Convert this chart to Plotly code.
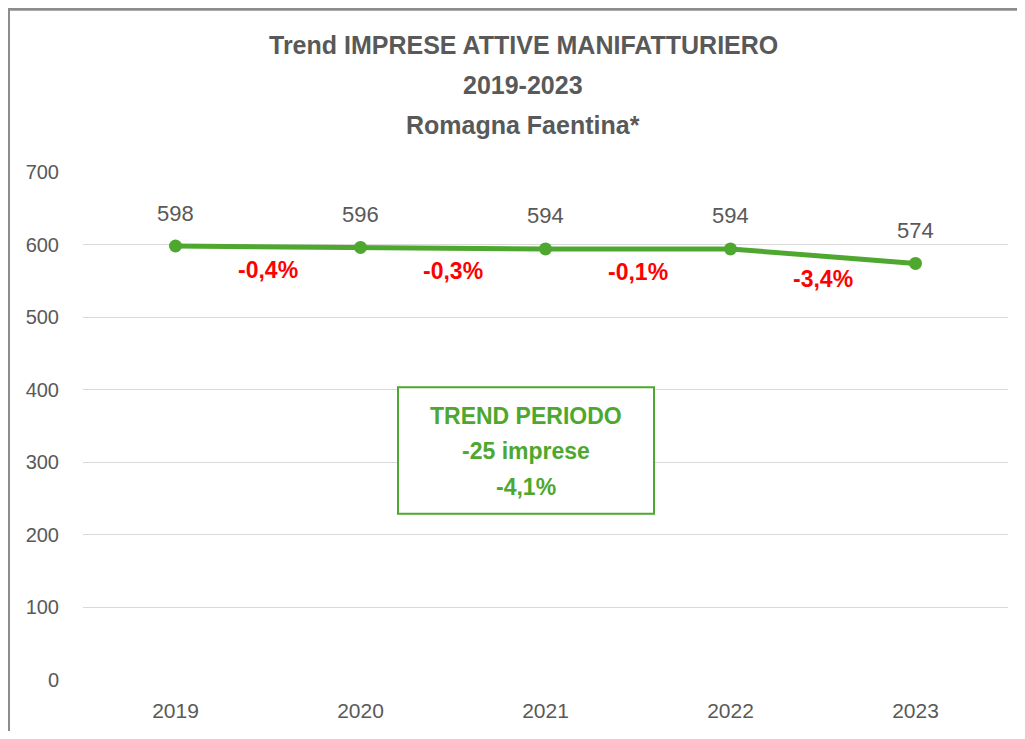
import plotly.graph_objects as go

years = ["2019", "2020", "2021", "2022", "2023"]
imprese = [598, 596, 594, 594, 574]
var_labels = ["-0,4%", "-0,3%", "-0,1%", "-3,4%"]
title_lines = ["Trend IMPRESE ATTIVE MANIFATTURIERO", "2019-2023", "Romagna Faentina*"]
box_lines = ["TREND PERIODO", "-25 imprese", "-4,1%"]
y_ticks = [0, 100, 200, 300, 400, 500, 600, 700]

GREEN = "#4EA72E"
GREY_TXT = "#595959"
FONT = "Liberation Sans, Arial, sans-serif"

# page offset (browser body margin)
OFF = 8
W, H = 1025 - 2 * OFF, 739 - 2 * OFF
# plot area in page pixels: x 83..1008, y 172..682
PL, PR, PT, PB = 83, 1008, 172, 682
L, T = PL - OFF, PT - OFF
PW, PH = PR - PL, PB - PT
R, B = W - L - PW, H - T - PH


def px(xp):
    return (xp - PL) / PW


def py(yp):
    return (PB - yp) / PH


fig = go.Figure()
fig.add_trace(go.Scatter(
    x=years, y=imprese, mode="lines+markers",
    line=dict(color=GREEN, width=5),
    marker=dict(color=GREEN, size=13),
    hoverinfo="skip", showlegend=False,
))

annotations = []
for i, v in enumerate(imprese):
    annotations.append(dict(x=i, y=v, xref="x", yref="y", text=str(v), showarrow=False,
                            yshift=33, font=dict(family=FONT, size=22, color=GREY_TXT)))
for i, lab in enumerate(var_labels):
    mid = (imprese[i] + imprese[i + 1]) / 2
    annotations.append(dict(x=i + 0.5, y=mid, xref="x", yref="y", text=lab, showarrow=False,
                            yshift=-23, font=dict(family=FONT, size=23, color="#FF0000", weight="bold")))
for yp, t in zip([45, 85, 125], title_lines):
    annotations.append(dict(x=px(523), y=py(yp), xref="paper", yref="paper", text=t, showarrow=False,
                            xanchor="center", yanchor="middle",
                            font=dict(family=FONT, size=25, color=GREY_TXT, weight="bold")))
for yp, t in zip([417, 452, 488], box_lines):
    annotations.append(dict(x=px(526), y=py(yp), xref="paper", yref="paper", text=t, showarrow=False,
                            xanchor="center", yanchor="middle",
                            font=dict(family=FONT, size=23, color=GREEN, weight="bold")))

shapes = [
    dict(type="rect", xref="paper", yref="paper", x0=px(398), x1=px(654), y0=py(515), y1=py(388),
         line=dict(color=GREEN, width=2), fillcolor="white", layer="above"),
    dict(type="line", xref="paper", yref="paper", x0=px(OFF), x1=px(1030), y0=py(OFF + 0.5), y1=py(OFF + 0.5),
         line=dict(color="#8C8C8C", width=3)),
    dict(type="line", xref="paper", yref="paper", x0=px(OFF + 0.5), x1=px(OFF + 0.5), y0=py(OFF), y1=py(745),
         line=dict(color="#8C8C8C", width=3)),
]

fig.update_layout(
    width=W, height=H,
    margin=dict(l=L, r=R, t=T, b=B),
    paper_bgcolor="white", plot_bgcolor="white",
    annotations=annotations, shapes=shapes,
    xaxis=dict(type="category", range=[-0.5, 4.5], showgrid=False, showline=False, zeroline=False,
               tickfont=dict(family=FONT, size=21, color=GREY_TXT), ticks="",
               ticklabelstandoff=16),
    yaxis=dict(range=[0, 700], tickvals=y_ticks, showgrid=True, gridcolor="#D9D9D9", gridwidth=1,
               zeroline=False, showline=False, ticks="",
               tickfont=dict(family=FONT, size=20, color=GREY_TXT), ticklabelstandoff=23),
)

fig.write_html("out.html")
